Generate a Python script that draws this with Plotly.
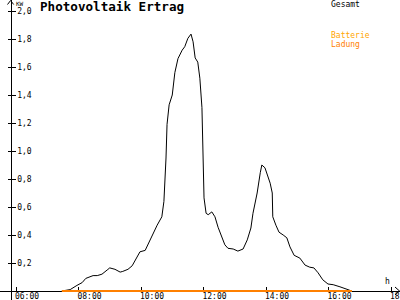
import plotly.graph_objects as go

# ---- data ----
gesamt_times = ["07:28","07:44","07:57","08:07","08:14","08:22","08:28","08:36","08:45","08:55",
                "09:00","09:10","09:20","09:25","09:35","09:43","09:52","09:58","10:08","10:13",
                "10:21","10:27","10:31","10:40","10:44","10:48","10:50","10:54","11:00","11:05",
                "11:11","11:19","11:24","11:30","11:36","11:40","11:44","11:49","11:53","11:57",
                "11:59","12:01","12:05","12:09","12:16","12:22","12:28","12:36","12:41","12:47",
                "12:57","13:06","13:16","13:24","13:31","13:35","13:43","13:49","13:52","13:58",
                "14:04","14:08","14:12","14:13","14:19","14:25","14:33","14:40","14:46","14:54",
                "15:05","15:15","15:24","15:32","15:40","15:49","15:59","16:09","16:22","16:32",
                "16:41"]
gesamt_kw = [0.00,0.01,0.04,0.06,0.09,0.10,0.11,0.11,0.12,0.15,
             0.165,0.155,0.135,0.14,0.155,0.18,0.235,0.28,0.29,0.33,
             0.385,0.435,0.47,0.53,0.64,0.95,1.19,1.33,1.40,1.56,
             1.66,1.72,1.745,1.805,1.835,1.78,1.665,1.635,1.52,1.31,
             0.95,0.665,0.555,0.545,0.565,0.53,0.455,0.385,0.33,0.305,
             0.30,0.285,0.30,0.365,0.45,0.555,0.70,0.845,0.90,0.88,
             0.815,0.77,0.70,0.53,0.47,0.42,0.40,0.38,0.315,0.255,
             0.235,0.185,0.17,0.165,0.13,0.08,0.05,0.045,0.03,0.015,
             0.005]
batterie_times = ["07:28", "16:45"]
batterie_kw = [0.0, 0.0]

x_tickvals = [6, 8, 10, 12, 14, 16, 18]
x_ticktext = ["06:00", "08:00", "10:00", "12:00", "14:00", "16:00", "18:00"]
y_tickvals = [0.2, 0.4, 0.6, 0.8, 1.0, 1.2, 1.4, 1.6, 1.8, 2.0]
y_ticktext = ["0,2", "0,4", "0,6", "0,8", "1,0", "1,2", "1,4", "1,6", "1,8", "2,0"]


def to_hours(t):
    h, m = t.split(":")
    return int(h) + int(m) / 60.0


W, H = 400, 300
MONO = "DejaVu Sans Mono"

fig = go.Figure()
fig.add_trace(go.Scatter(x=[to_hours(t) for t in gesamt_times], y=gesamt_kw, mode="lines",
                         line=dict(color="black", width=1), name="Gesamt", hoverinfo="skip"))
fig.add_trace(go.Scatter(x=[to_hours(t) for t in batterie_times], y=batterie_kw, mode="lines",
                         line=dict(color="#FF8000", width=2), name="Batterie Ladung", hoverinfo="skip"))
# helper trace so the tick-stub axis exists
fig.add_trace(go.Scatter(x=[], y=[], yaxis="y2", showlegend=False))


def P(x, y):
    return f"{x / W:.5f},{1 - y / H:.5f}"


shapes = [
    # y-axis arrow head
    dict(type="path", xref="paper", yref="paper",
         path=f"M {P(7.5, 4.5)} L {P(10.6, 0.5)} L {P(13.7, 4.5)}",
         line=dict(color="black", width=1)),
    # x-axis arrow head
    dict(type="path", xref="paper", yref="paper",
         path=f"M {P(395, 287)} L {P(399.5, 291)} L {P(395, 295)}",
         line=dict(color="black", width=1)),
]

annotations = [
    dict(text="<b>Photovoltaik Ertrag</b>", x=38 / W, y=1 - 7 / H, xref="paper", yref="paper",
         xanchor="left", yanchor="middle", showarrow=False, font=dict(family=MONO, size=12.6, color="black")),
    dict(text="KW", x=14 / W, y=1 - 4 / H, xref="paper", yref="paper",
         xanchor="left", yanchor="middle", showarrow=False, font=dict(family=MONO, size=6, color="black")),
    dict(text="Gesamt", x=329 / W, y=1 - 4.5 / H, xref="paper", yref="paper",
         xanchor="left", yanchor="middle", showarrow=False, font=dict(family=MONO, size=8, color="black")),
    dict(text="Batterie", x=329 / W, y=1 - 35 / H, xref="paper", yref="paper",
         xanchor="left", yanchor="middle", showarrow=False, font=dict(family=MONO, size=8, color="#FFA500")),
    dict(text="Ladung", x=329 / W, y=1 - 44 / H, xref="paper", yref="paper",
         xanchor="left", yanchor="middle", showarrow=False, font=dict(family=MONO, size=8, color="#FF8000")),
    dict(text="h", x=387 / W, y=1 - 281.5 / H, xref="paper", yref="paper",
         xanchor="center", yanchor="middle", showarrow=False, font=dict(family=MONO, size=8, color="black")),
]

YPOS = 10.6 / W
fig.update_layout(
    width=W, height=H, margin=dict(l=0, r=0, t=0, b=0, autoexpand=False),
    paper_bgcolor="white", plot_bgcolor="white", showlegend=False,
    xaxis=dict(range=[6 - 16 / 31.25, 6 + 384 / 31.25], domain=[0, 1], automargin=False,
               anchor="free", position=9 / H, showline=True, linecolor="black", linewidth=1,
               showgrid=False, zeroline=False, ticks="inside", ticklen=4, tickcolor="black",
               tickwidth=1, tickvals=x_tickvals, ticktext=x_ticktext, ticklabelshift=11,
               ticklabeloverflow="allow", ticklabelstandoff=-3,
               tickfont=dict(family=MONO, size=8, color="black"), layer="below traces"),
    yaxis=dict(range=[-9 / 140, 291 / 140], domain=[0, 1], anchor="free", position=YPOS,
               automargin=False,
               side="right", showline=True, linecolor="black", linewidth=1,
               showgrid=False, zeroline=False, ticks="outside", ticklen=4, tickcolor="black",
               tickwidth=1, tickvals=y_tickvals, ticktext=y_ticktext,
               tickfont=dict(family=MONO, size=8, color="black"), layer="below traces"),
    yaxis2=dict(range=[-9 / 140, 291 / 140], domain=[0, 1], anchor="free", position=YPOS,
                automargin=False,
                overlaying="y", side="left", showline=False, showgrid=False, zeroline=False,
                ticks="outside", ticklen=3, tickcolor="black", tickwidth=1,
                tickvals=y_tickvals, showticklabels=False),
    shapes=shapes, annotations=annotations,
)

fig.write_html("out.html")
